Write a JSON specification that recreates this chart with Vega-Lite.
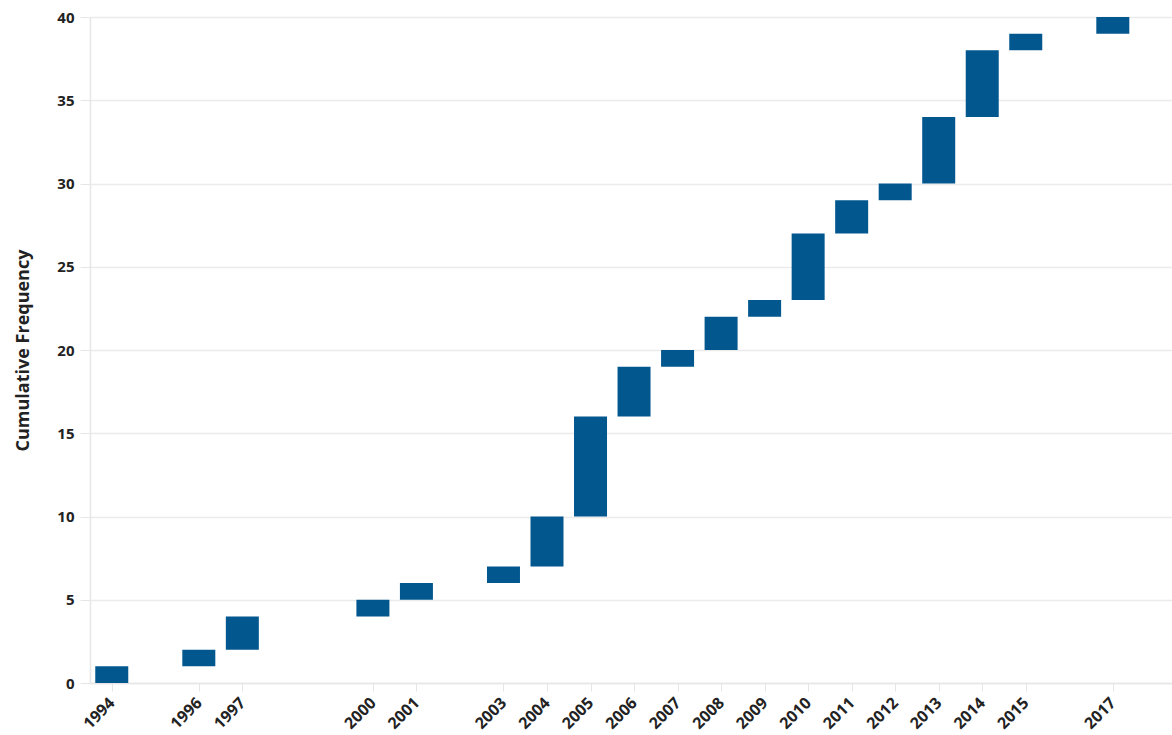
{
  "$schema": "https://vega.github.io/schema/vega-lite/v6.json",
  "width": 1082,
  "height": 666,
  "autosize": {"type": "none"},
  "padding": {"left": 90, "top": 17, "right": 0, "bottom": 52},
  "background": "white",
  "config": {"view": {"stroke": null}},
  "data": {"values": [
    {"year": 1994, "start": 0, "end": 1},
    {"year": 1996, "start": 1, "end": 2},
    {"year": 1997, "start": 2, "end": 4},
    {"year": 2000, "start": 4, "end": 5},
    {"year": 2001, "start": 5, "end": 6},
    {"year": 2003, "start": 6, "end": 7},
    {"year": 2004, "start": 7, "end": 10},
    {"year": 2005, "start": 10, "end": 16},
    {"year": 2006, "start": 16, "end": 19},
    {"year": 2007, "start": 19, "end": 20},
    {"year": 2008, "start": 20, "end": 22},
    {"year": 2009, "start": 22, "end": 23},
    {"year": 2010, "start": 23, "end": 27},
    {"year": 2011, "start": 27, "end": 29},
    {"year": 2012, "start": 29, "end": 30},
    {"year": 2013, "start": 30, "end": 34},
    {"year": 2014, "start": 34, "end": 38},
    {"year": 2015, "start": 38, "end": 39},
    {"year": 2017, "start": 39, "end": 40}
  ]},
  "mark": {"type": "bar", "width": 33, "color": "#02578f"},
  "encoding": {
    "x": {
      "field": "year", "type": "quantitative",
      "scale": {"domain": [1993.5, 2018.36], "nice": false, "zero": false, "padding": 0},
      "axis": {
        "title": null,
        "values": [1994, 1996, 1997, 2000, 2001, 2003, 2004, 2005, 2006, 2007, 2008, 2009, 2010, 2011, 2012, 2013, 2014, 2015, 2017],
        "format": "d",
        "labelAngle": -45,
        "labelAlign": "right",
        "labelBaseline": "middle",
        "labelFont": "Open Sans",
        "labelFontWeight": "bold",
        "labelFontSize": 16,
        "labelColor": "#222222",
        "labelPadding": 9,
        "grid": false,
        "domainColor": "#e6e6e6",
        "domainWidth": 1.5,
        "tickColor": "#e6e6e6",
        "tickSize": 8,
        "labelOverlap": false
      }
    },
    "y": {
      "field": "start", "type": "quantitative",
      "scale": {"domain": [0, 40], "nice": false, "padding": 0},
      "axis": {
        "title": "Cumulative Frequency",
        "titleFont": "Open Sans",
        "titleFontWeight": "bold",
        "titleFontSize": 18,
        "titleColor": "#222222",
        "titlePadding": 24,
        "values": [0, 5, 10, 15, 20, 25, 30, 35, 40],
        "labelFont": "Open Sans",
        "labelFontWeight": "bold",
        "labelFontSize": 15,
        "labelColor": "#222222",
        "labelPadding": 6,
        "gridColor": "#ebebeb",
        "gridWidth": 1.5,
        "domainColor": "#e6e6e6",
        "domainWidth": 1.5,
        "tickColor": "#e6e6e6",
        "tickSize": 10
      }
    },
    "y2": {"field": "end"}
  }
}
